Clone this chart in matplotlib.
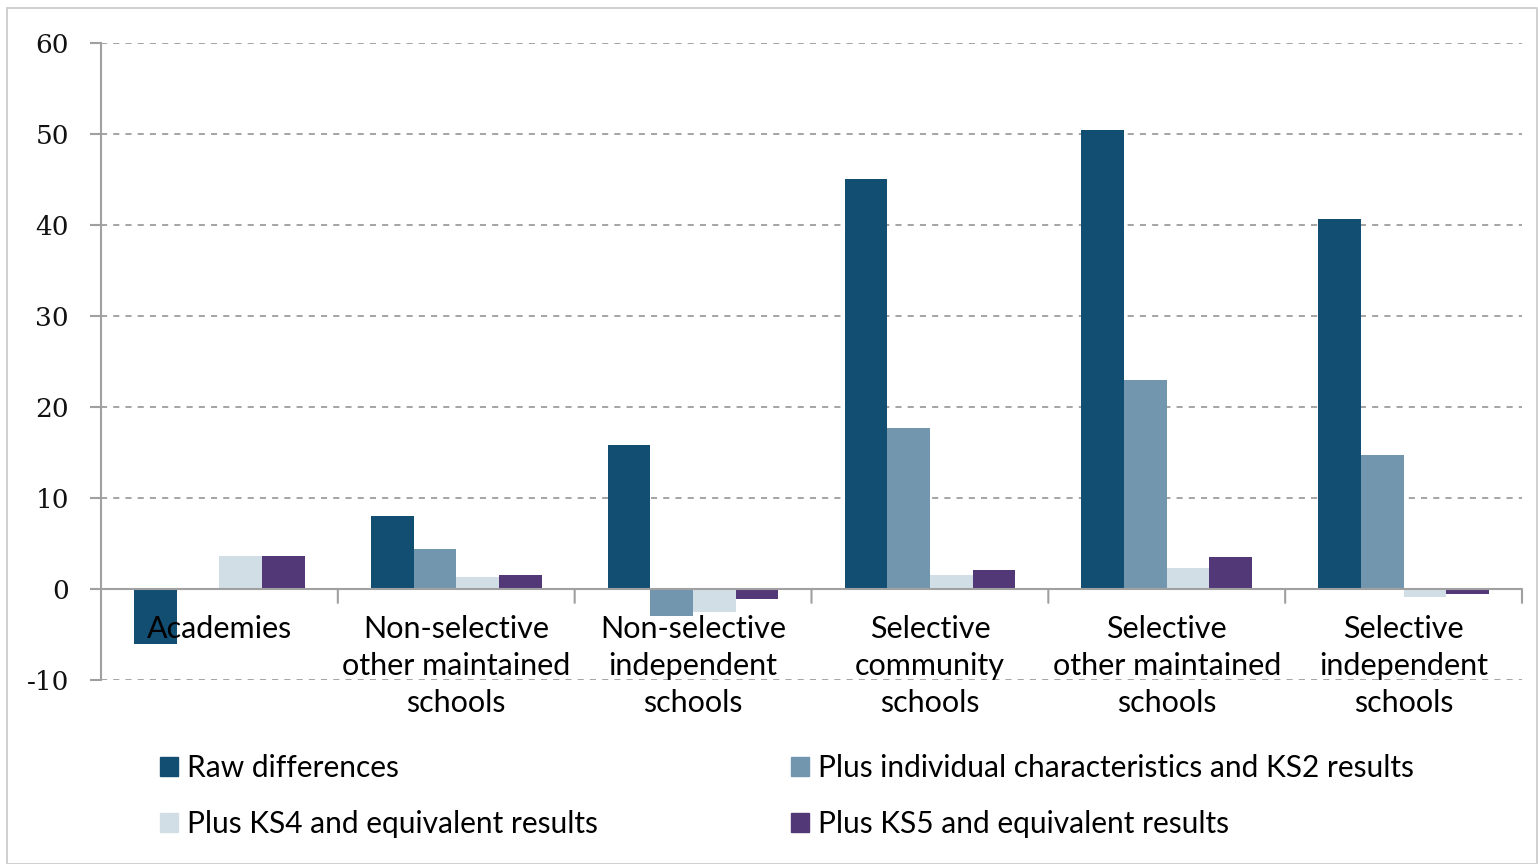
import matplotlib
matplotlib.use("Agg")
import matplotlib.pyplot as plt
import numpy as np
from matplotlib.patches import Rectangle, Patch

categories = ["Academies", "Non-selective\nother maintained\nschools", "Non-selective\nindependent\nschools",
              "Selective\ncommunity\nschools", "Selective\nother maintained\nschools", "Selective\nindependent\nschools"]
series_names = ["Raw differences", "Plus individual characteristics and KS2 results",
                "Plus KS4 and equivalent results", "Plus KS5 and equivalent results"]
raw = [-6.0, 8.0, 15.8, 45.1, 50.4, 40.7]
indiv = [0.0, 4.4, -3.0, 17.7, 23.0, 14.7]
ks4 = [3.6, 1.3, -2.5, 1.5, 2.3, -0.9]
ks5 = [3.6, 1.5, -1.1, 2.1, 3.5, -0.5]
yticks = [-10, 0, 10, 20, 30, 40, 50, 60]
colors = ["#124E72", "#7396AF", "#D2DEE6", "#533878"]

fig = plt.figure(figsize=(15.38, 8.64), dpi=100)
fig.patches.append(Rectangle((7/1538, 0), 1 - 8/1538, 1 - 8/864, transform=fig.transFigure,
                             fill=False, edgecolor="#C8C8C8", linewidth=1.2))
ax = fig.add_axes([101/1538, 1 - 680/864, (1522 - 101)/1538, (680 - 43)/864])

n = len(categories)
x = np.arange(n) + 0.5
w = 0.18
for i, (vals, c) in enumerate(zip([raw, indiv, ks4, ks5], colors)):
    ax.bar(x + (i - 1.5) * w, vals, width=w, color=c, zorder=3)

ax.set_xlim(0, n)
ax.set_ylim(-10, 60)
ax.set_yticks(yticks)
ax.set_yticklabels([str(t) for t in yticks], fontsize=19, family="DejaVu Serif", color="#111111")
ax.tick_params(axis="y", length=8, color="#A0A0A0", width=1.5, pad=15)
for t in yticks:
    if t != 0:
        ax.axhline(t, color="#8C8C8C", linestyle=(0, (4, 4)), linewidth=1.1, zorder=1)
ax.axhline(0, color="#A0A0A0", linewidth=1.5, zorder=4)
ax.set_xticks([])
for b in range(1, n + 1):
    ax.annotate("", xy=(b, 0), xytext=(0, -10), textcoords="offset points",
                xycoords="data", arrowprops=dict(arrowstyle="-", color="#A0A0A0", lw=1.5, shrinkA=0, shrinkB=0))
for xi, lab in zip(x, categories):
    ax.annotate(lab, xy=(xi, 0), xytext=(0, -19), textcoords="offset points", ha="center", va="top",
                fontsize=22, family="Lato", linespacing=1.38, zorder=5)
for s in ["top", "right", "bottom"]:
    ax.spines[s].set_visible(False)
ax.spines["left"].set_color("#A0A0A0")
ax.spines["left"].set_linewidth(1.5)

common = dict(loc="upper left", frameon=False, prop={"family": "Lato", "size": 21.5},
              handlelength=0.6, handleheight=0.6, handletextpad=0.3, labelspacing=0.95,
              borderpad=0, borderaxespad=0)
leg1 = fig.legend([Patch(color=colors[0]), Patch(color=colors[2])], [series_names[0], series_names[2]],
                  bbox_to_anchor=(160/1538, 1 - 754/864), **common)
leg2 = fig.legend([Patch(color=colors[1]), Patch(color=colors[3])], [series_names[1], series_names[3]],
                  bbox_to_anchor=(791/1538, 1 - 754/864), **common)

fig.savefig("out.png", dpi=100)
